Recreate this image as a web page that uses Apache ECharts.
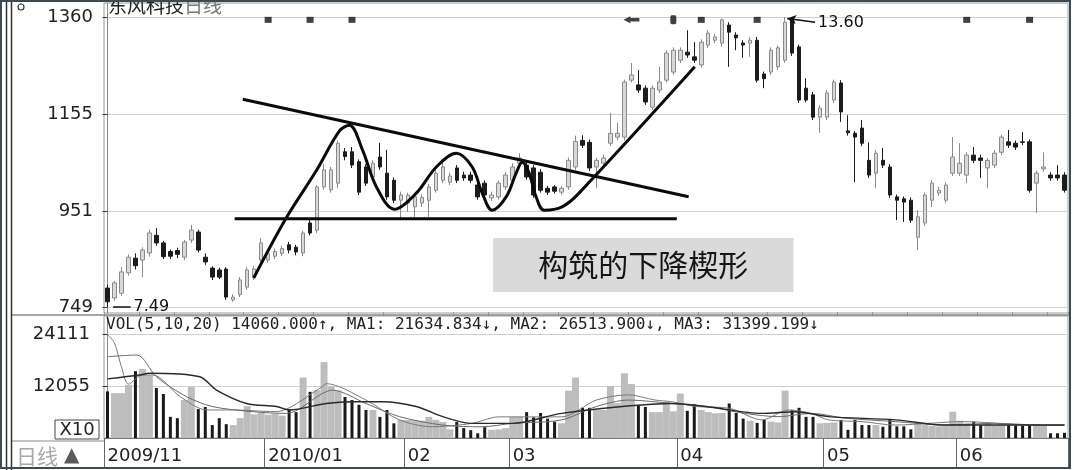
<!DOCTYPE html>
<html><head><meta charset="utf-8">
<script src="https://cdn.jsdelivr.net/npm/echarts@6/dist/echarts.min.js"></script>
<style>html,body{margin:0;padding:0;background:#fff}#c{width:1074px;height:470px}</style>
</head><body><div id="c"></div>
<script>
// ---- price data (x100) ----
const openPrices = [789,768,778,821,852,848,863,900,884,866,868,854,890,907,854,831,827,829,764,775,791,812,848,848,856,862,880,875,863,926,911,1002,996,1010,1076,1076,1055,1044,1023,1065,1031,1016,974,968,960,968,974,995,1016,1012,1042,1027,1027,1006,1010,979,981,1002,1016,1052,1048,1042,1033,999,1002,991,1002,1044,1100,1096,1044,1052,1094,1107,1107,1227,1217,1210,1170,1206,1227,1244,1269,1286,1276,1259,1301,1311,1305,1343,1322,1305,1305,1311,1240,1244,1255,1269,1354,1297,1210,1196,1149,1149,1185,1221,1120,1115,1126,1058,1031,1058,1044,981,977,974,896,926,974,989,974,1031,1031,1027,1069,1063,1042,1048,1075,1097,1094,1097,1097,1010,1040,1027,1027,1027];
const closePrices = [760,800,823,854,836,869,905,884,855,856,860,886,911,869,844,812,812,770,770,806,827,829,884,862,866,872,869,865,905,905,1002,1038,1038,1094,1066,1048,991,1010,1052,1044,981,974,985,985,981,980,1002,1031,1044,1025,1016,1021,1016,981,985,985,1010,1027,1044,1063,1023,985,995,991,993,999,1058,1098,1090,1042,1058,1063,1115,1115,1223,1238,1206,1181,1210,1223,1284,1290,1290,1280,1269,1307,1326,1318,1354,1328,1316,1301,1311,1227,1230,1290,1295,1349,1284,1185,1185,1149,1168,1200,1223,1160,1116,1107,1094,1027,1073,1048,985,974,970,932,939,985,1010,995,1006,1065,1052,1069,1058,1058,1058,1073,1107,1090,1086,1096,995,1031,1044,1021,1021,995];
const lowPrices = [749,762,772,815,828,812,855,878,850,850,852,848,884,864,838,806,808,764,760,770,785,806,842,842,850,856,862,858,856,900,905,996,990,1000,1058,1042,985,1004,1017,1038,975,968,932,950,939,960,939,990,1010,1006,1010,1015,1010,975,978,972,975,996,1010,1046,1017,979,990,985,988,985,996,1038,1084,1036,1000,1046,1088,1100,1100,1222,1200,1175,1164,1200,1222,1238,1263,1274,1263,1253,1295,1305,1298,1255,1290,1274,1276,1222,1210,1238,1248,1263,1278,1179,1180,1143,1116,1143,1179,1139,1110,1012,1088,1021,1000,1042,979,932,928,926,869,920,960,983,968,1025,1025,1010,1052,1021,1000,1042,1069,1084,1080,1090,990,947,1034,1015,1015,990];
const highPrices = [796,804,833,860,862,875,912,915,888,870,874,890,922,912,862,835,832,833,776,812,833,835,895,868,872,878,886,880,910,932,1006,1050,1044,1100,1084,1086,1060,1050,1058,1095,1080,1022,992,990,986,986,1008,1038,1060,1032,1048,1034,1034,1012,1016,992,1016,1033,1052,1073,1054,1048,1040,1004,1006,1004,1064,1110,1111,1102,1064,1070,1158,1137,1228,1263,1248,1216,1216,1255,1290,1296,1296,1332,1307,1313,1332,1324,1357,1349,1328,1311,1318,1318,1245,1296,1300,1360,1358,1302,1231,1202,1174,1206,1228,1227,1153,1120,1143,1096,1080,1084,1050,986,982,980,953,990,1016,1002,1012,1107,1094,1075,1086,1070,1063,1080,1112,1122,1100,1118,1102,1036,1075,1033,1048,1033];
// ---- volume data ----
const volumes = [10800,10400,10400,12300,15500,16000,14500,11600,10200,4900,
 4600,8800,11800,6700,7200,3000,4600,3200,3000,4600,
 7400,5500,5800,5400,5600,5200,6700,6000,14000,10700,
 11100,17600,12000,11000,9500,8800,7700,6500,6500,4900,
 6500,3400,4200,4200,4200,4000,4900,4200,3700,2000,
 3700,2300,1800,1100,2500,1900,2000,2300,4900,4900,
 6000,4800,5800,4500,3800,3400,11000,14000,7000,7000,
 6500,6500,12000,8100,15000,12500,7600,7200,6000,6000,
 8400,6200,10300,6300,7800,6500,6000,5700,5800,8000,
 5800,4500,4000,3500,4200,3800,3600,11000,6500,7000,
 4900,4900,3400,3500,3600,4200,1900,4200,3000,3000,
 3000,2600,4200,2700,2700,2000,3200,3000,2800,2700,
 2800,6100,4000,3400,3800,3000,3200,3000,3300,3000,
 2900,2900,3000,3200,2800,1100,1100,1200];
// volume moving-average lines: [day index, value]
const volMA1 = [[0,24000],[1,22000],[2,16500],[3,12500],[5,14600],[6.5,14600],[10.4,9600],[14.2,6500],[18,6500],[24,6100],[30.8,11900],[31.3,12600],[37,8800],[41.8,4200],[46.5,2600],[52.2,3400],[56,4900],[60.4,4900],[65,4900],[70,8800],[74.6,10000],[78.4,8800],[80.8,8400],[84.2,7300],[89,6900],[93.7,4200],[97.5,6500],[100.8,5700],[103.2,4200],[108,3800],[112.8,3000],[117.6,3400],[122.2,3800],[131.8,3000],[137,2900]];
const volMA2 = [[0,18850],[4.2,19240],[7,14200],[11.3,9600],[15,7300],[20.8,6100],[25.6,5700],[30.8,10350],[32.2,11100],[37,8000],[41.8,4950],[48,3000],[53.6,2600],[58,3400],[65,4200],[70,7300],[74.6,8800],[80.8,8000],[85.7,7300],[91.3,5700],[96,4950],[100.8,5700],[105.6,4600],[112.8,3800],[120,3000],[127,3400],[133.6,3000],[137,3000]];
const volMA3 = [[0,13700],[4.6,14600],[6,15000],[13.2,14200],[15.6,11100],[19.9,8000],[24.2,7300],[26,6500],[31.3,8000],[35,8400],[39.4,8400],[44.2,7300],[48,4950],[52.2,3400],[58,3400],[65,5700],[73.7,7300],[80.8,8000],[85.7,7300],[93.7,5700],[98.5,6100],[103.2,4950],[112.8,4200],[120,3000],[133.6,3000],[137,3000]];
// ---- axes ----
const priceTicks = [749, 951, 1155, 1360];
const volumeTicks = [12055, 24111];
const monthTickIndex = [0, 23, 43, 58, 82, 103, 122];
const monthTickText = ['2009/11', '2010/01', '02', '03', '04', '05', '06'];
// ---- annotations (day index, price) ----
const eventMarkerIndex = [23, 29, 35, 75, 81, 85, 93, 123, 132];
const upperTrend = [[19.36, 1186.6], [83.2, 981.3]];
const supportLine = [[18.2, 935], [81.5, 935]];
const wavePath = [[20.93,810],[25.64,938],[29.93,1037],[33.21,1120],[34.64,1132],[36.5,1080],[38.5,1002],[41.07,955],[44.21,989],[47.07,1044],[49.93,1073],[52.21,1044],[53.64,989],[55.07,953],[57.07,981],[58.5,1031],[59.36,1054],[60.36,1031],[61.36,981],[62.5,953],[65.07,960],[67.5,989],[84.07,1255]];
const highMark = [[97.3, 1357], [101.3, 1349]];
const lowMark = [[0.8, 750], [3.3, 750]];
const wedgeBox = [[55.2, 894.4], [98.2, 780.6]];

const N = openPrices.length;
const categories = openPrices.map((_, i) => String(i));
const candleData = openPrices.map((o, i) => [o, closePrices[i], lowPrices[i], highPrices[i]]);
const upVolume = volumes.map((v, i) => closePrices[i] >= openPrices[i] ? v : '-');
const downVolume = volumes.map((v, i) => closePrices[i] < openPrices[i] ? v : '-');
const markerData = eventMarkerIndex.map((d) => {
  const item = { value: [d, 1354] };
  if (d === 75) { item.symbol = 'path://M0,5 L7,0 L7,2.5 L16,2.5 L16,7.5 L7,7.5 L7,10 Z'; item.symbolSize = [16, 7]; }
  else if (d === 81) { item.symbol = 'roundRect'; item.symbolSize = [6, 9]; }
  return item;
});

const blackLine = { color: '#0a0a0a', width: 3 };
const plain = (v) => String(v);
const chart = echarts.init(document.getElementById('c'), null, { renderer: 'canvas' });
chart.setOption({
  animation: false,
  backgroundColor: '#ffffff',
  grid: [
    { left: 104, right: 6, top: 3, height: 310, show: true, borderColor: '#9a9a9a', borderWidth: 1 },
    { left: 104, right: 6, top: 316, height: 122, show: true, borderColor: '#9a9a9a', borderWidth: 1 }
  ],
  xAxis: [
    { type: 'category', gridIndex: 0, data: categories, axisLine: { show: false }, axisTick: { show: false }, axisLabel: { show: false } },
    { type: 'value', gridIndex: 0, min: -0.5, max: N - 0.5, show: false },
    { type: 'category', gridIndex: 1, data: categories,
      axisLine: { show: true, lineStyle: { color: '#777' } },
      axisTick: { show: true, length: 30, interval: (i) => monthTickIndex.includes(i), lineStyle: { color: '#666' } },
      axisLabel: { interval: (i) => monthTickIndex.includes(i), formatter: (v, i) => monthTickText[monthTickIndex.indexOf(i)] || '',
        align: 'left', margin: 9, fontSize: 18, color: '#222', fontFamily: 'DejaVu Sans' } },
    { type: 'category', gridIndex: 1, data: categories, axisLine: { show: false },
      axisTick: { show: true, interval: 4, length: 4, lineStyle: { color: '#999' } }, axisLabel: { show: false } },
    { type: 'value', gridIndex: 1, min: -0.5, max: N - 0.5, show: false }
  ],
  yAxis: [
    { type: 'value', gridIndex: 0, min: 736.4, max: 1389.5,
      axisLine: { show: true, lineStyle: { color: '#888' } },
      axisTick: { show: true, customValues: priceTicks, length: 5, lineStyle: { color: '#333' } },
      axisLabel: { customValues: priceTicks, formatter: plain, margin: 11, fontSize: 18, color: '#222', fontFamily: 'DejaVu Sans' },
      splitLine: { show: true, lineStyle: { color: '#cfcfcf' } } },
    { type: 'value', gridIndex: 1, min: 0, max: 28283,
      axisLine: { show: true, lineStyle: { color: '#888' } },
      axisTick: { show: true, customValues: volumeTicks, length: 5, lineStyle: { color: '#333' } },
      axisLabel: { customValues: volumeTicks, formatter: plain, margin: 14, fontSize: 18, color: '#222', fontFamily: 'DejaVu Sans' },
      splitLine: { show: true, lineStyle: { color: '#cfcfcf' } } }
  ],
  series: [
    { type: 'candlestick', xAxisIndex: 0, yAxisIndex: 0, data: candleData, barWidth: 4,
      itemStyle: { color: '#d8d8d8', borderColor: '#8a8a8a', color0: '#1c1c1c', borderColor0: '#1c1c1c', borderWidth: 1 } },
    { type: 'bar', xAxisIndex: 2, yAxisIndex: 1, data: upVolume, barWidth: '100%', itemStyle: { color: '#bdbdbd' } },
    { type: 'bar', xAxisIndex: 3, yAxisIndex: 1, data: downVolume, barWidth: 3, itemStyle: { color: '#1a1a1a' } },
    { type: 'line', xAxisIndex: 4, yAxisIndex: 1, data: volMA1, smooth: 0.3, showSymbol: false, lineStyle: { color: '#7a7a7a', width: 1 } },
    { type: 'line', xAxisIndex: 4, yAxisIndex: 1, data: volMA2, smooth: 0.3, showSymbol: false, lineStyle: { color: '#6a6a6a', width: 1 } },
    { type: 'line', xAxisIndex: 4, yAxisIndex: 1, data: volMA3, smooth: 0.3, showSymbol: false, lineStyle: { color: '#2a2a2a', width: 1.4 } },
    { type: 'line', xAxisIndex: 1, yAxisIndex: 0, data: upperTrend, showSymbol: false, lineStyle: blackLine, z: 5 },
    { type: 'line', xAxisIndex: 1, yAxisIndex: 0, data: supportLine, showSymbol: false, lineStyle: blackLine, z: 5 },
    { type: 'line', xAxisIndex: 1, yAxisIndex: 0, data: wavePath, smooth: 0.35, showSymbol: false, lineStyle: blackLine, z: 5 },
    { type: 'scatter', xAxisIndex: 1, yAxisIndex: 0, data: markerData, symbol: 'rect', symbolSize: [7, 6], itemStyle: { color: '#111' }, z: 6 },
    { type: 'line', xAxisIndex: 1, yAxisIndex: 0, data: [], z: 6,
      markLine: { silent: true, symbol: ['arrow', 'none'], symbolSize: [7, 9],
        lineStyle: { color: '#111', width: 1.5, type: 'solid' },
        label: { position: 'end', distance: 3, formatter: '13.60', fontSize: 16, color: '#111', fontFamily: 'DejaVu Sans' },
        data: [[{ coord: highMark[0] }, { coord: highMark[1] }]] },
      markArea: { silent: true, itemStyle: { color: '#dadada' },
        label: { show: true, position: 'inside', formatter: '构筑的下降楔形', fontSize: 30, color: '#151515', fontFamily: 'Noto Sans CJK SC' },
        data: [[{ coord: wedgeBox[0] }, { coord: wedgeBox[1] }]] } },
    { type: 'line', xAxisIndex: 1, yAxisIndex: 0, data: [], z: 6,
      markLine: { silent: true, symbol: ['none', 'none'],
        lineStyle: { color: '#111', width: 1.5, type: 'solid' },
        label: { position: 'end', distance: 3, formatter: '7.49', fontSize: 16, color: '#111', fontFamily: 'DejaVu Sans' },
        data: [[{ coord: lowMark[0] }, { coord: lowMark[1] }]] } }
  ],
  graphic: [
    { type: 'text', z: 50, style: { x: 108, y: 6, verticalAlign: 'middle', text: '{a|东风科技}{b|日线}',
      rich: { a: { fontSize: 19, fill: '#222', fontFamily: 'Noto Sans CJK SC' }, b: { fontSize: 19, fill: '#777', fontFamily: 'Noto Sans CJK SC' } } } },
    { type: 'text', z: 50, style: { x: 106, y: 325, verticalAlign: 'middle', text: 'VOL(5,10,20) 14060.000↑, MA1: 21634.834↓, MA2: 26513.900↓, MA3: 31399.199↓',
      font: '16px "DejaVu Sans Mono"', fill: '#222' } },
    { type: 'rect', z: 50, shape: { x: 55, y: 420, width: 44, height: 19 }, style: { fill: '#fff', stroke: '#444', lineWidth: 1 } },
    { type: 'text', z: 51, style: { x: 77, y: 430, align: 'center', verticalAlign: 'middle', text: 'X10', font: '18px "DejaVu Sans"', fill: '#222' } },
    { type: 'line', z: 50, shape: { x1: 12, y1: 315, x2: 1070, y2: 315 }, style: { stroke: '#8a8a8a', lineWidth: 1.5 } },
    { type: 'line', z: 50, shape: { x1: 12, y1: 441, x2: 104, y2: 441 }, style: { stroke: '#8a8a8a', lineWidth: 1 } },
    { type: 'text', z: 50, style: { x: 16, y: 456, verticalAlign: 'middle', text: '日线', font: '21px "Noto Sans CJK SC"', fill: '#a8a8a8' } },
    { type: 'text', z: 50, style: { x: 64, y: 456, verticalAlign: 'middle', text: '▲', font: '20px "DejaVu Sans"', fill: '#5a5a5a' } },
    { type: 'circle', z: 50, shape: { cx: 21, cy: 7, r: 3 }, style: { fill: 'none', stroke: '#333', lineWidth: 1.2 } },
    { type: 'line', z: 60, shape: { x1: 6.5, y1: 0, x2: 6.5, y2: 470 }, style: { stroke: '#333', lineWidth: 1.5 } },
    { type: 'line', z: 60, shape: { x1: 11.5, y1: 0, x2: 11.5, y2: 470 }, style: { stroke: '#333', lineWidth: 1.5 } },
    { type: 'rect', z: 60, shape: { x: 1, y: 1, width: 1069, height: 467 }, style: { fill: 'none', stroke: '#3e4a52', lineWidth: 2 } }
  ]
});
</script></body></html>
